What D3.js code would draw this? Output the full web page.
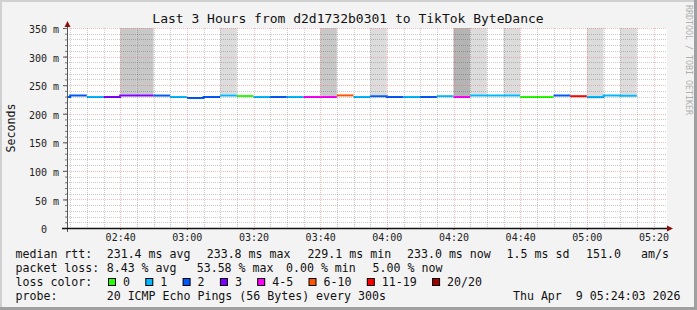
<!DOCTYPE html>
<html lang="en">
<head>
<meta charset="UTF-8">
<title>Last 3 Hours from d2d1732b0301 to TikTok ByteDance</title>
<script src="https://d3js.org/d3.v7.min.js"></script>
<style>
  body { margin: 0; background: #f3f3f3; }
  svg text { font-family: "DejaVu Sans Mono", monospace; white-space: pre; }
</style>
</head>
<body>
<script>
// step end times (5 min steps), median rtt in ms and lost pings (of 20)
const stepTimes = ["02:25","02:30","02:35","02:40","02:45","02:50","02:55","03:00","03:05","03:10",
                   "03:15","03:20","03:25","03:30","03:35","03:40","03:45","03:50","03:55","04:00",
                   "04:05","04:10","04:15","04:20","04:25","04:30","04:35","04:40","04:45","04:50",
                   "04:55","05:00","05:05","05:10","05:15"];
const medianRtt = [231.0,233.5,231.0,231.0,233.5,233.5,233.5,231.0,229.1,231.0,
                   233.6,232.7,231.0,231.0,231.0,231.0,231.0,233.8,231.0,232.4,
                   231.0,231.0,231.0,232.4,231.0,233.6,233.6,233.6,231.0,231.0,
                   233.6,232.4,231.0,233.5,233.0];
const lostPings = [2,2,1,3,3,3,2,1,2,2,
                   1,0,1,2,1,4,4,8,1,2,
                   2,1,2,1,4,1,1,1,0,0,
                   2,12,1,1,1];

// smoke (ping spread) for the steps that have it
const smokeTimes = ["02:45","02:50","03:15","03:45","04:00","04:25","04:30","04:40","05:05","05:15"];
const smokeLo    = [233.5,233.5,233.6,231.0,232.4,231.0,233.6,233.6,226.0,233.0];
const smokeHi    = [400,400,400,400,400,400,400,400,400,400];
const smokeDepth = [2,2,1,2,1,3,1,1,1,1];

// loss colour legend
const lossLabels = ["0","1","2","3","4-5","6-10","11-19","20/20"];
const lossColors = ["#26ff00","#00b8ff","#0059ff","#7e00ff","#ff00ff","#ff5500","#ff0000","#a10000"];
const lossLimits = [0,1,2,3,5,10,19,20];

const yTicks = [0,50,100,150,200,250,300,350];
const rangeStart = "02:24:03", rangeEnd = "05:24:03";

const titleText = "Last 3 Hours from d2d1732b0301 to TikTok ByteDance";
const rttRow = [["median rtt:",15.5],["231.4 ms avg",106.7],["233.8 ms max",206.7],["229.1 ms min",307.4],
                ["233.0 ms now",407],["1.5 ms sd",506.6],["151.0",586],["am/s",641]];
const lossRow = [["packet loss:",15.5],["8.43 % avg",106.7],["53.58 % max",196.7],["0.00 % min",286],["5.00 % now",372.6]];
const probeText = "20 ICMP Echo Pings (56 Bytes) every 300s";
const dateText = "Thu Apr  9 05:24:03 2026";

const width = 697, height = 310;
const pLeft = 67, pRight = 667, pTop = 28, pBottom = 228;

const parse = d3.timeParse("%H:%M:%S");
const t = s => parse(s.length === 5 ? s + ":00" : s);
const step = 5 * 60 * 1000;

const x = d3.scaleTime().domain([t(rangeStart), t(rangeEnd)]).range([pLeft, pRight]);
const y = d3.scaleLinear().domain([0, 350]).range([pBottom, pTop]);
const lossColor = n => lossColors[lossLimits.findIndex(l => n <= l)];
const smokeGray = d3.scaleOrdinal().domain([1,2,3]).range(["#dcdcdc","#c8c8c8","#b4b4b4"]);

const svg = d3.select("body").append("svg")
  .attr("width", width).attr("height", height).style("display", "block");

// frame
svg.append("rect").attr("width", width).attr("height", height).attr("fill", "#f3f3f3");
svg.append("rect").attr("x", 0).attr("y", 0).attr("width", width).attr("height", 2).attr("fill", "#d0d0d0");
svg.append("rect").attr("x", 0).attr("y", 0).attr("width", 2).attr("height", height).attr("fill", "#d0d0d0");
svg.append("rect").attr("x", width - 3).attr("y", 0).attr("width", 3).attr("height", height).attr("fill", "#a0a0a0");
svg.append("rect").attr("x", 0).attr("y", height - 3).attr("width", width).attr("height", 3).attr("fill", "#a0a0a0");

svg.append("rect").attr("x", pLeft).attr("y", pTop).attr("width", pRight - pLeft).attr("height", pBottom - pTop)
  .attr("fill", "#fff");

svg.append("defs").append("clipPath").attr("id", "plot")
  .append("rect").attr("x", pLeft).attr("y", pTop).attr("width", pRight - pLeft).attr("height", pBottom - pTop);

const plot = svg.append("g").attr("clip-path", "url(#plot)");

// smoke
plot.selectAll(".smoke").data(smokeTimes).enter().append("rect")
  .attr("class", "smoke")
  .attr("x", d => x(new Date(t(d) - step)))
  .attr("width", d => x(t(d)) - x(new Date(t(d) - step)))
  .attr("y", (d, i) => y(smokeHi[i]))
  .attr("height", (d, i) => y(smokeLo[i]) - y(smokeHi[i]))
  .attr("fill", (d, i) => smokeGray(smokeDepth[i]));

// grid
const grid = svg.append("g");
const minorX = d3.timeMinute.every(5).range(t(rangeStart), t(rangeEnd));
const majorX = d3.timeMinute.every(20).range(t(rangeStart), t(rangeEnd));
grid.selectAll(".gx").data(minorX.filter(d => d.getMinutes() % 20)).enter().append("line")
  .attr("x1", d => Math.round(x(d)) + 0.5).attr("x2", d => Math.round(x(d)) + 0.5)
  .attr("y1", pTop).attr("y2", pBottom)
  .attr("stroke", "rgba(0,0,0,0.2)").attr("stroke-dasharray", "1,1");
grid.selectAll(".gy").data(y.ticks(35).filter(d => d % 50)).enter().append("line")
  .attr("x1", pLeft).attr("x2", pRight)
  .attr("y1", d => Math.round(y(d)) + 0.5).attr("y2", d => Math.round(y(d)) + 0.5)
  .attr("stroke", "rgba(0,0,0,0.2)").attr("stroke-dasharray", "1,1");
grid.selectAll(".mx").data(majorX).enter().append("line")
  .attr("x1", d => Math.round(x(d)) + 0.5).attr("x2", d => Math.round(x(d)) + 0.5)
  .attr("y1", pTop).attr("y2", pBottom)
  .attr("stroke", "rgba(235,90,90,0.4)").attr("stroke-dasharray", "1,1");
grid.selectAll(".my").data(yTicks.filter(d => d > 0)).enter().append("line")
  .attr("x1", pLeft).attr("x2", pRight)
  .attr("y1", d => Math.round(y(d)) + 0.5).attr("y2", d => Math.round(y(d)) + 0.5)
  .attr("stroke", "rgba(235,90,90,0.4)").attr("stroke-dasharray", "1,1");

// median rtt, one line per run of equal loss colour
const steps = stepTimes.map((s, i) => ({ end: t(s), v: medianRtt[i], c: lossColor(lostPings[i]) }));
const runs = [];
steps.forEach(s => {
  const last = runs[runs.length - 1];
  if (last && last.c === s.c) last.pts.push(s); else runs.push({ c: s.c, pts: [s] });
});
const line = d3.line().curve(d3.curveStepAfter).x(d => x(d.t)).y(d => y(d.v) + 1);
runs.forEach(r => {
  const pts = r.pts.map(p => ({ t: new Date(p.end - step), v: p.v }));
  const lastPt = r.pts[r.pts.length - 1];
  pts.push({ t: lastPt.end, v: lastPt.v });
  plot.append("path").attr("d", line(pts))
    .attr("fill", "none").attr("stroke", r.c).attr("stroke-width", 2);
});

// axes
const yAxis = svg.append("g").attr("transform", "translate(" + pLeft + ",0)")
  .call(d3.axisLeft(y).tickValues(yTicks).tickSize(4).tickPadding(4)
    .tickFormat(d => d ? d + " m" : "0  "));
yAxis.select(".domain").remove();
yAxis.selectAll("text").attr("dy", "0.47em").attr("font-size", 10).attr("fill", "#222");
yAxis.selectAll("line").attr("stroke", "#555");
const yMinor = svg.append("g").attr("transform", "translate(" + pLeft + ",0)")
  .call(d3.axisLeft(y).tickValues(y.ticks(35)).tickSize(2).tickFormat(""));
yMinor.select(".domain").remove();
yMinor.selectAll("line").attr("stroke", "#777");

const xAxis = svg.append("g").attr("transform", "translate(0," + pBottom + ")")
  .call(d3.axisBottom(x).ticks(d3.timeMinute.every(20)).tickSize(2).tickPadding(4)
    .tickFormat(d3.timeFormat("%H:%M")));
xAxis.select(".domain").remove();
xAxis.selectAll("text").attr("font-size", 10).attr("fill", "#222");
xAxis.selectAll("line").attr("stroke", "#555");

svg.append("line").attr("x1", pLeft + 0.5).attr("x2", pLeft + 0.5).attr("y1", pBottom + 4).attr("y2", pTop - 5)
  .attr("stroke", "#555");
svg.append("line").attr("x1", pLeft - 5).attr("x2", pRight + 3).attr("y1", pBottom + 0.5).attr("y2", pBottom + 0.5)
  .attr("stroke", "#111").attr("stroke-width", 1.5);
svg.append("path").attr("d", "M" + (pLeft + 0.5) + "," + (pTop - 7) + "l-3,6h6z").attr("fill", "#8b1010");
svg.append("path").attr("d", "M" + (pRight + 6) + "," + (pBottom + 0.5) + "l-6,-3v6z").attr("fill", "#8b1010");

// titles
svg.append("text").attr("x", 348).attr("y", 23).attr("text-anchor", "middle")
  .attr("font-size", 13).attr("fill", "#111").text(titleText);
svg.append("text").attr("transform", "translate(15," + ((pTop + pBottom) / 2) + ") rotate(-90)")
  .attr("text-anchor", "middle").attr("font-size", 11.6).attr("fill", "#111").text("Seconds");
svg.append("text").attr("transform", "translate(686,5) rotate(90)")
  .attr("font-size", 8.3).attr("fill", "#b0b0b0").text("RRDTOOL / TOBI OETIKER");

// legend
const legend = svg.append("g").attr("font-size", 11.6).attr("fill", "#111");
const row = (items, yb) => items.forEach(([s, xp]) =>
  legend.append("text").attr("x", xp).attr("y", yb).text(s));
row(rttRow, 258);
row(lossRow, 272);
row([["loss color:", 15.5]], 286);
let lx = 108;
lossLabels.forEach((lab, i) => {
  legend.append("rect").attr("x", lx + 0.5).attr("y", 278.5).attr("width", 7).attr("height", 7)
    .attr("fill", lossColors[i]).attr("stroke", "#000");
  legend.append("text").attr("x", lx + 15).attr("y", 286).text(lab);
  lx += 30.3 + 7 * lab.length;
});
row([["probe:", 15.5], [probeText, 106.7]], 300);
legend.append("text").attr("x", 680.5).attr("y", 300).attr("text-anchor", "end").text(dateText);
</script>
</body>
</html>
